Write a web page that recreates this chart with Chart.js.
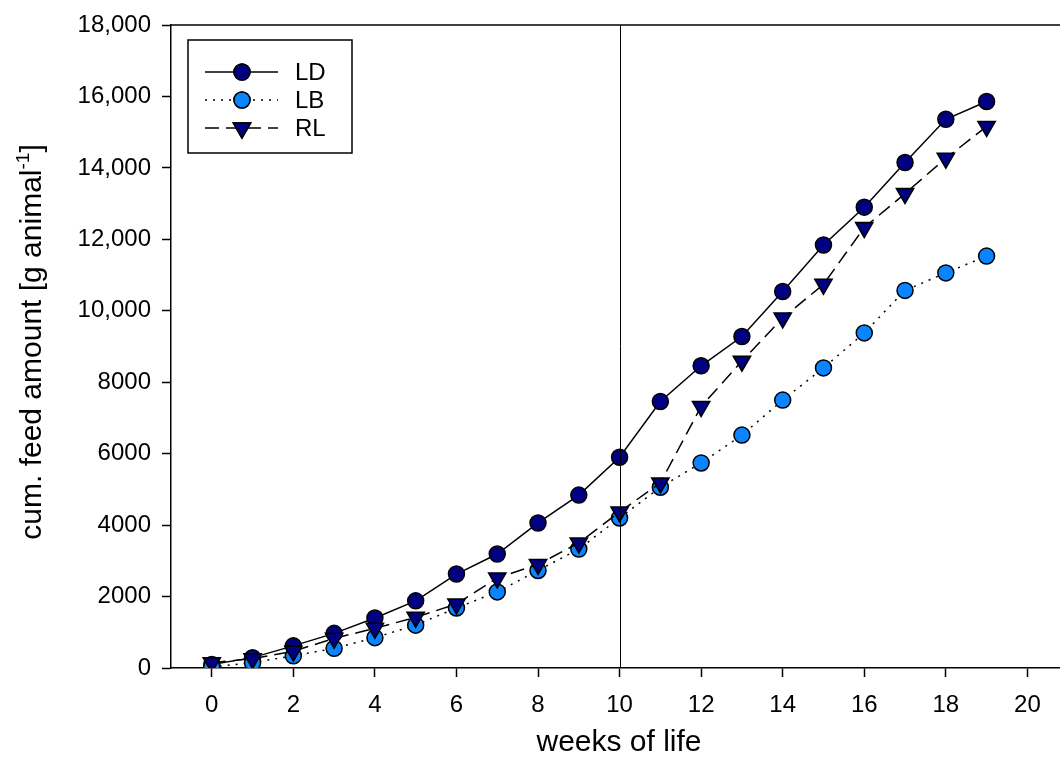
<!DOCTYPE html>
<html>
<head>
<meta charset="utf-8">
<script src="https://cdn.jsdelivr.net/npm/chart.js@4"></script>
<style>
  html, body { margin: 0; padding: 0; background: #fff; }
  #wrap { width: 1060px; height: 769px; }
</style>
</head>
<body>
<div id="wrap"><canvas id="feedChart" width="1060" height="769"></canvas></div>
<script>
// weeks of life
const weeks = [0, 1, 2, 3, 4, 5, 6, 7, 8, 9, 10, 11, 12, 13, 14, 15, 16, 17, 18, 19];
// cum. feed amount, g per animal
const ldValues = [100, 290, 620, 970, 1400, 1880, 2630, 3190, 4060, 4840, 5900, 7460, 8460, 9280, 10540, 11840, 12900, 14150, 15360, 15860];
const lbValues = [30, 150, 340, 550, 850, 1200, 1680, 2130, 2730, 3330, 4200, 5060, 5740, 6520, 7500, 8400, 9380, 10570, 11060, 11530];
const rlValues = [150, 260, 470, 830, 1110, 1420, 1790, 2520, 2900, 3500, 4370, 5180, 7320, 8590, 9800, 10740, 12330, 13280, 14270, 15160];

const xTicks = [0, 2, 4, 6, 8, 10, 12, 14, 16, 18, 20];
const yTicks = [0, 2000, 4000, 6000, 8000, 10000, 12000, 14000, 16000, 18000];
const yTickLabels = ["0", "2000", "4000", "6000", "8000", "10,000", "12,000", "14,000", "16,000", "18,000"];

const FONT = "'Liberation Sans', Arial, sans-serif";

function points(values) {
  return weeks.map((w, i) => ({ x: w, y: values[i] }));
}

// Rahmen oben, Linie bei Woche 10, Achsentitel und Legende
const decorPlugin = {
  id: "decor",
  afterDatasetsDraw(chart) {
    const { ctx, chartArea, scales } = chart;
    ctx.save();
    ctx.strokeStyle = "#000";

    // obere Linie
    ctx.lineWidth = 1.5;
    ctx.beginPath();
    ctx.moveTo(chartArea.left, chartArea.top);
    ctx.lineTo(chartArea.right, chartArea.top);
    ctx.stroke();

    // senkrechte Linie bei 10 Wochen
    const x10 = Math.round(scales.x.getPixelForValue(10)) + 0.5;
    ctx.lineWidth = 1;
    ctx.beginPath();
    ctx.moveTo(x10, chartArea.top);
    ctx.lineTo(x10, chartArea.bottom);
    ctx.stroke();

    // x-Achsentitel
    ctx.fillStyle = "#000";
    ctx.font = "30px " + FONT;
    ctx.textAlign = "center";
    ctx.textBaseline = "alphabetic";
    ctx.fillText("weeks of life", 619, 751);

    // y-Achsentitel mit Hochstellung
    ctx.save();
    ctx.translate(41, 342);
    ctx.rotate(-Math.PI / 2);
    const mainText = "cum. feed amount [g animal";
    const supText = "-1";
    const endText = "]";
    ctx.font = "30px " + FONT;
    const w1 = ctx.measureText(mainText).width;
    const w3 = ctx.measureText(endText).width;
    ctx.font = "19px " + FONT;
    const w2 = ctx.measureText(supText).width;
    let x0 = -(w1 + w2 + w3) / 2;
    ctx.textAlign = "left";
    ctx.font = "30px " + FONT;
    ctx.fillText(mainText, x0, 0);
    ctx.font = "19px " + FONT;
    ctx.fillText(supText, x0 + w1, -12);
    ctx.font = "30px " + FONT;
    ctx.fillText(endText, x0 + w1 + w2, 0);
    ctx.restore();

    // Legende
    ctx.lineWidth = 1.5;
    ctx.strokeRect(188, 40, 164, 113);
    const rows = [72, 100, 128];
    chart.data.datasets.forEach((ds, i) => {
      const y = rows[i];
      ctx.save();
      ctx.strokeStyle = "#000";
      ctx.lineWidth = ds.borderWidth;
      ctx.setLineDash(ds.borderDash || []);
      ctx.beginPath();
      ctx.moveTo(205, y);
      ctx.lineTo(278, y);
      ctx.stroke();
      ctx.restore();
      Chart.helpers.drawPoint(ctx, {
        pointStyle: ds.pointStyle,
        rotation: ds.pointRotation || 0,
        radius: ds.pointRadius,
        borderWidth: ds.pointBorderWidth
      }, 242, y);
      ctx.fillStyle = ds.pointBackgroundColor;
      ctx.strokeStyle = "#000";
      ctx.lineWidth = ds.pointBorderWidth;
      ctx.fill();
      ctx.stroke();
      ctx.fillStyle = "#000";
      ctx.font = "24px " + FONT;
      ctx.textAlign = "left";
      ctx.textBaseline = "middle";
      ctx.fillText(ds.label, 295, y + 1);
    });
    ctx.restore();
  }
};

const ctx = document.getElementById("feedChart");
new Chart(ctx, {
  type: "line",
  data: {
    datasets: [
      {
        label: "LD",
        data: points(ldValues),
        borderColor: "#000",
        borderWidth: 1.5,
        pointStyle: "circle",
        pointRadius: 8,
        pointBackgroundColor: "#000080",
        pointBorderColor: "#000",
        pointBorderWidth: 1.5,
        order: 2
      },
      {
        label: "LB",
        data: points(lbValues),
        borderColor: "#000",
        borderWidth: 1.5,
        borderDash: [2, 6],
        pointStyle: "circle",
        pointRadius: 8,
        pointBackgroundColor: "#0a85ff",
        pointBorderColor: "#000",
        pointBorderWidth: 1.5,
        order: 1
      },
      {
        label: "RL",
        data: points(rlValues),
        borderColor: "#000",
        borderWidth: 1.5,
        borderDash: [14, 7],
        pointStyle: "triangle",
        pointRotation: 180,
        pointRadius: 10,
        pointBackgroundColor: "#000080",
        pointBorderColor: "#000",
        pointBorderWidth: 1.5,
        order: 0
      }
    ]
  },
  options: {
    responsive: false,
    animation: false,
    layout: { autoPadding: false, padding: { top: 25, right: 0, left: 0, bottom: 0 } },
    plugins: {
      legend: { display: false },
      tooltip: { enabled: false }
    },
    scales: {
      x: {
        type: "linear",
        min: -1,
        max: 20.8,
        afterBuildTicks: (scale) => { scale.ticks = xTicks.map((v) => ({ value: v })); },
        afterFit: (scale) => {
          scale.height = 101;
          scale.paddingLeft = 0;
          scale.paddingRight = 0;
        },
        grid: { display: true, drawOnChartArea: false, tickLength: 9, tickColor: "#000", tickWidth: 1.5 },
        border: { display: true, color: "#000", width: 1.5 },
        ticks: { color: "#000", font: { family: FONT, size: 24 }, padding: 14, maxRotation: 0, autoSkip: false }
      },
      y: {
        min: 0,
        max: 18000,
        afterBuildTicks: (scale) => { scale.ticks = yTicks.map((v) => ({ value: v })); },
        afterFit: (scale) => {
          scale.width = 171;
          scale.paddingTop = 0;
          scale.paddingBottom = 0;
        },
        grid: { display: true, drawOnChartArea: false, tickLength: 9, tickColor: "#000", tickWidth: 1.5 },
        border: { display: true, color: "#000", width: 1.5 },
        ticks: {
          color: "#000",
          font: { family: FONT, size: 24 },
          padding: 11,
          autoSkip: false,
          callback: (value) => yTickLabels[yTicks.indexOf(value)]
        }
      }
    }
  },
  plugins: [decorPlugin]
});
</script>
</body>
</html>
